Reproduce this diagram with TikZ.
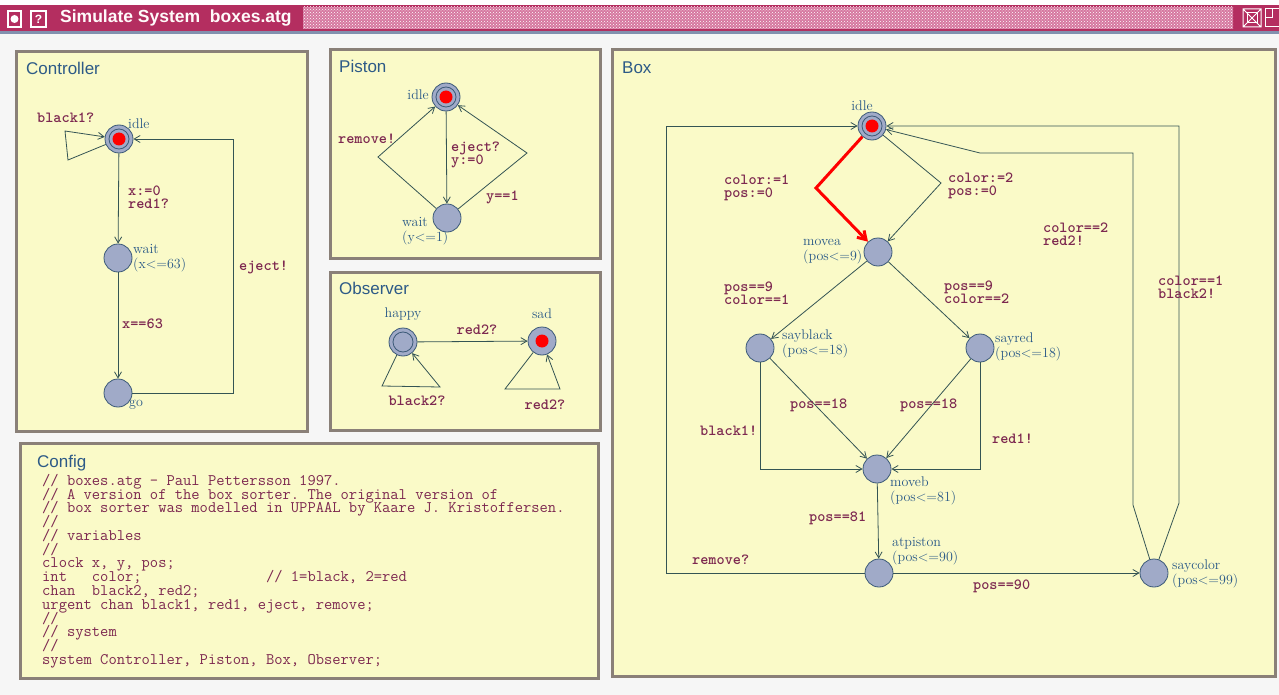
\documentclass[tikz,border=0pt]{standalone}
\usepackage{fontspec}
\newfontfamily\sansfont{Liberation Sans}
\usetikzlibrary{arrows.meta, patterns}
\lineskiplimit=-100pt
\definecolor{panelyellow}{RGB}{250,250,200}
\definecolor{panelgrey}{RGB}{138,128,120}
\definecolor{barred}{RGB}{180,46,96}
\definecolor{barpink}{RGB}{214,120,160}
\definecolor{barline}{RGB}{130,145,175}
\definecolor{edgegreen}{RGB}{52,84,84}
\definecolor{loclight}{RGB}{160,170,200}
\definecolor{locdark}{RGB}{60,90,120}
\definecolor{labelwine}{RGB}{125,40,80}
\definecolor{nameblue}{RGB}{40,88,135}
\definecolor{titleblue}{RGB}{45,90,135}
\definecolor{bggrey}{RGB}{246,246,246}
\tikzset{>={Straight Barb[length=6pt,width=7pt]}}
\tikzset{
  panel/.style={draw=panelgrey, line width=3pt, fill=panelyellow},
  paneltitle/.style={anchor=west, inner sep=0pt, text=titleblue, font=\sansfont\fontsize{17}{17}\selectfont},
  loc/.style={circle, draw=locdark, fill=loclight, line width=0.8pt, minimum size=28pt, inner sep=0pt},
  locname/.style={anchor=west, inner sep=0pt, align=left, text=nameblue, font=\fontsize{14}{15}\selectfont},
  guard/.style={anchor=west, inner sep=0pt, align=left, text=labelwine, font=\ttfamily\bfseries\frenchspacing\fontsize{15.5}{13.5}\selectfont},
  trans/.style={draw=edgegreen, line width=0.8pt, ->},
  ring/.style={draw=locdark, line width=0.8pt}
}

\begin{document}
\begin{tikzpicture}[x=1pt, y=-1pt]
\useasboundingbox (0,0) rectangle (1279,695);
\fill[bggrey] (0,0) rectangle (1279,695);
% title bar
\fill[white] (0,0) rectangle (1279,5);
\fill[barred] (0,5) rectangle (1279,31);
\fill[barline] (0,31) rectangle (1279,34);
\fill[barpink] (303,7) rectangle (1233,29);
\fill[pattern=crosshatch dots, pattern color=white] (303,7) rectangle (1233,29);
\draw[white, line width=1.2pt] (8,11) rectangle (21,27);
\fill[white] (14.5,19) circle (4pt);
\draw[white, line width=1.2pt] (31,11) rectangle (46,27);
\node[text=white, font=\sansfont\bfseries\fontsize{12}{12}\selectfont] (bar-help) at (38.5,19) {?};
\node[anchor=west, inner sep=0pt, text=white!92!pink, font=\sansfont\bfseries\fontsize{17.5}{17.5}\selectfont] (bar-title) at (60,18) {Simulate System\ \ boxes.atg};
\draw[white, line width=1pt] (1243,9) rectangle (1261,27) (1243,9) -- (1261,27) (1261,9) -- (1243,27);
\draw[white, line width=1pt] (1247,13) rectangle (1257,23);
\draw[white, line width=1pt] (1265,9) rectangle (1279,27) (1265,18) -- (1272,18) -- (1272,9);

% panels
\draw[panel] (16.5,51.5) rectangle (307.5,431.5);
\draw[panel] (330.5,49.5) rectangle (600.5,258.5);
\draw[panel] (330.5,272.5) rectangle (600.5,430.5);
\draw[panel] (20.5,443.5) rectangle (598.5,678.5);
\draw[panel] (612.5,49.5) rectangle (1275.5,676.5);
\node[paneltitle] (t-controller) at (26,68) {Controller};
\node[paneltitle] (t-piston) at (339,66) {Piston};
\node[paneltitle] (t-observer) at (339,288) {Observer};
\node[paneltitle] (t-config) at (37,463) {Config};
\node[paneltitle] (t-box) at (622,68) {Box};

% Controller
\node[loc] (c-idle) at (119,139) {};
\draw[ring] (c-idle.center) circle (10pt);
\fill[red] (c-idle.center) circle (6.5pt);
\node[loc] (c-wait) at (118,258) {};
\node[loc] (c-go) at (118,393) {};
\node[locname] (c-idle-name) at (128,124) {idle};
\node[locname] (c-wait-name) at (133,258) {wait\\(x<=63)};
\node[locname] (c-go-name) at (129,405) {go};
\draw[trans] (c-idle) -- (68,160) -- (65,131) -- (c-idle);
\draw[trans] (c-idle) -- (c-wait);
\draw[trans] (c-wait) -- (c-go);
\draw[trans] (c-go) -- (233,393) -- (233,139) -- (c-idle);
\node[guard] (c-black1) at (37,118) {black1?};
\node[guard] (c-red1) at (128,197) {x:=0\\red1?};
\node[guard] (c-x63) at (122,324) {x==63};
\node[guard] (c-eject) at (239,267) {eject!};

% Piston
\node[loc] (p-idle) at (446,97) {};
\draw[ring] (p-idle.center) circle (10pt);
\fill[red] (p-idle.center) circle (6.5pt);
\node[loc] (p-wait) at (447,218) {};
\node[locname, anchor=east] (p-idle-name) at (429,95) {idle};
\node[locname] (p-wait-name) at (402,231) {wait\\(y<=1)};
\draw[trans] (p-idle) -- (p-wait);
\draw[trans] (p-wait) -- (378,157) -- (p-idle);
\draw[trans] (p-wait) -- (527,153) -- (p-idle);
\node[guard] (p-eject) at (451,155) {eject?\\y:=0};
\node[guard] (p-remove) at (338,139) {remove!};
\node[guard] (p-y1) at (486,197) {y==1};

% Observer
\node[loc] (o-happy) at (403,342) {};
\draw[ring] (o-happy.center) circle (10pt);
\node[loc] (o-sad) at (542,341) {};
\fill[red] (o-sad.center) circle (6.5pt);
\node[locname, anchor=center] (o-happy-name) at (403,314) {happy};
\node[locname, anchor=center] (o-sad-name) at (542,314) {sad};
\draw[trans] (o-happy) -- (o-sad);
\draw[trans] (o-happy) -- (382,386) -- (440,387) -- (o-happy);
\draw[trans] (o-sad) -- (505,389) -- (560,389) -- (o-sad);
\node[guard, anchor=center] (o-red2) at (477,330) {red2?};
\node[guard, anchor=center] (o-black2) at (417,401) {black2?};
\node[guard, anchor=center] (o-red2-loop) at (545,405) {red2?};

% Config
\node[anchor=north west, inner sep=0pt, align=left, text=labelwine, font=\ttfamily\frenchspacing\fontsize{16.1}{13.77}\selectfont] (cfg-code) at (42,474) {%
// boxes.atg - Paul Pettersson 1997.\\
// A version of the box sorter. The original version of\\
// box sorter was modelled in UPPAAL by Kaare J. Kristoffersen.\\
//\\
// variables\\
//\\
clock x, y, pos;\\
int\ \ \ color;\ \ \ \ \ \ \ \ \ \ \ \ \ \ \ // 1=black, 2=red\\
chan\ \ black2, red2;\\
urgent chan black1, red1, eject, remove;\\
//\\
// system\\
//\\
system Controller, Piston, Box, Observer;};

% Box
\node[loc] (b-idle) at (872,126) {};
\draw[ring] (b-idle.center) circle (10pt);
\fill[red] (b-idle.center) circle (6.5pt);
\node[loc] (b-movea) at (878,252) {};
\node[loc] (b-sayblack) at (760,348) {};
\node[loc] (b-sayred) at (980,348) {};
\node[loc] (b-moveb) at (877,469) {};
\node[loc] (b-atpiston) at (879,573) {};
\node[loc] (b-saycolor) at (1154,573) {};
\node[locname, anchor=center] (b-idle-name) at (862,106) {idle};
\node[locname] (b-movea-name) at (803,252) {movea\\(pos<=9)};
\node[locname] (b-sayblack-name) at (782,344) {sayblack\\(pos<=18)};
\node[locname] (b-sayred-name) at (995,347) {sayred\\(pos<=18)};
\node[locname] (b-moveb-name) at (890,491) {moveb\\(pos<=81)};
\node[locname] (b-atpiston-name) at (892,551) {atpiston\\(pos<=90)};
\node[locname] (b-saycolor-name) at (1172,574) {saycolor\\(pos<=99)};
\draw[trans, draw=red, line width=3pt, -{Straight Barb[length=8pt,width=10pt]}] (b-idle) -- (816,188) -- (b-movea);
\draw[trans] (b-idle) -- (941,183) -- (b-movea);
\draw[trans] (b-movea) -- (b-sayblack);
\draw[trans] (b-movea) -- (b-sayred);
\draw[trans] (b-sayblack) -- (b-moveb);
\draw[trans] (b-sayred) -- (b-moveb);
\draw[trans] (b-sayblack) |- (b-moveb);
\draw[trans] (b-sayred) |- (b-moveb);
\draw[trans] (b-moveb) -- (b-atpiston);
\draw[trans] (b-atpiston) -- (b-saycolor);
\draw[trans] (b-atpiston) -- (666,573) -- (666,126) -- (b-idle);
\draw[trans] (b-saycolor) -- (1179,503) -- (1179,126) -- (b-idle);
\draw[trans] (b-saycolor) -- (1133,505) -- (1133,153) -- (980,153) -- (b-idle);
\node[guard] (b-color1) at (724,188) {color:=1\\pos:=0};
\node[guard] (b-color2) at (948,186) {color:=2\\pos:=0};
\node[guard] (b-red2) at (1043,234) {color==2\\red2!};
\node[guard] (b-black2) at (1158,287) {color==1\\black2!};
\node[guard] (b-pos9a) at (724,293) {pos==9\\color==1};
\node[guard] (b-pos9b) at (944,292) {pos==9\\color==2};
\node[guard] (b-pos18a) at (790,405) {pos==18};
\node[guard] (b-pos18b) at (900,405) {pos==18};
\node[guard] (b-black1) at (700,431) {black1!};
\node[guard] (b-red1) at (992,439) {red1!};
\node[guard] (b-pos81) at (809,518) {pos==81};
\node[guard] (b-remove) at (692,560) {remove?};
\node[guard] (b-pos90) at (973,586) {pos==90};
\end{tikzpicture}
\end{document}
